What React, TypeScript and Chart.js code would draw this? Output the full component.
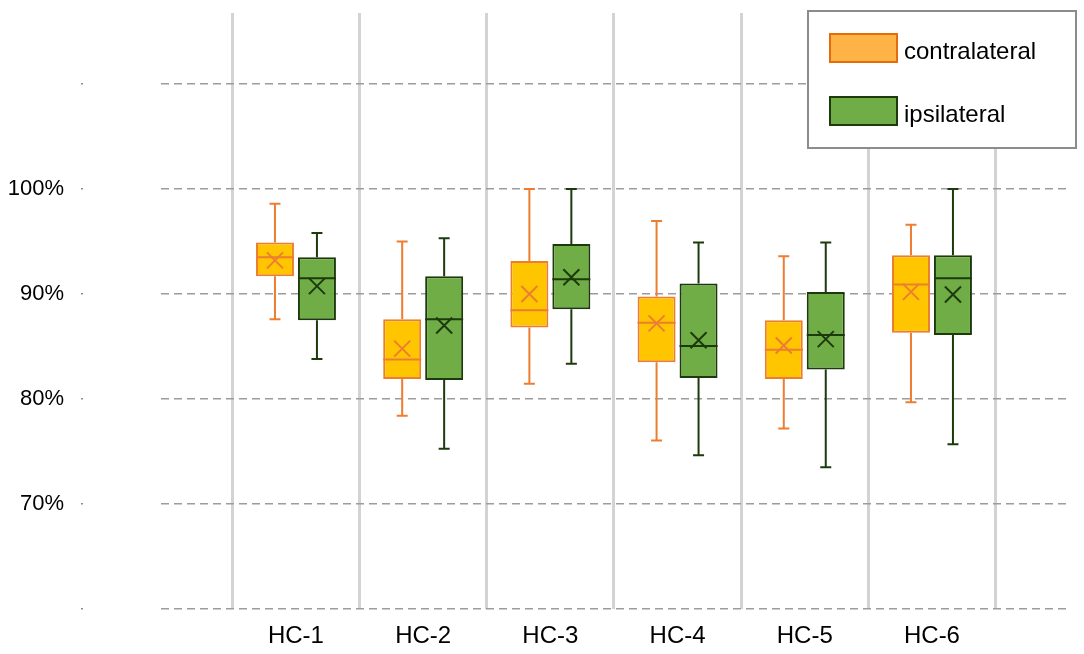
import React, { useEffect, useRef } from "react";
import { Chart, registerables } from "chart.js";

Chart.register(...registerables);

const categories = ["HC-1", "HC-2", "HC-3", "HC-4", "HC-5", "HC-6"];

// contralateral box stats (%)
const contraMin = [87.6, 78.4, 81.45, 76.05, 77.2, 79.7];
const contraQ1 = [91.7, 81.9, 86.8, 83.5, 81.9, 86.3];
const contraMedian = [93.5, 83.75, 88.45, 87.25, 84.7, 90.9];
const contraQ3 = [94.9, 87.6, 93.15, 89.75, 87.5, 93.7];
const contraMax = [98.6, 95.0, 100.0, 96.95, 93.6, 96.6];
const contraMean = [93.2, 84.8, 90.0, 87.2, 85.1, 90.2];

// ipsilateral box stats (%)
const ipsiMin = [83.8, 75.25, 83.35, 74.65, 73.5, 75.7];
const ipsiQ1 = [87.5, 81.8, 88.55, 82.0, 82.8, 86.1];
const ipsiMedian = [91.5, 87.6, 91.4, 85.05, 86.1, 91.5];
const ipsiQ3 = [93.5, 91.7, 94.75, 91.0, 90.2, 93.7];
const ipsiMax = [95.8, 95.3, 100.0, 94.9, 94.9, 100.0];
const ipsiMean = [90.75, 87.0, 91.6, 85.6, 85.7, 89.95];

const yTicks = [60, 70, 80, 90, 100, 110];
const yLabelled = [70, 80, 90, 100];

const FONT = '"Liberation Sans", Arial, sans-serif';

const groups = [
  {
    label: "contralateral",
    min: contraMin, q1: contraQ1, median: contraMedian, q3: contraQ3, max: contraMax, mean: contraMean,
    fill: "#FFC600", line: "#ED7D31", swatch: "#FFB347", swatchLine: "#E46C0A",
  },
  {
    label: "ipsilateral",
    min: ipsiMin, q1: ipsiQ1, median: ipsiMedian, q3: ipsiQ3, max: ipsiMax, mean: ipsiMean,
    fill: "#70AD47", line: "#1D3A0D", swatch: "#70AD47", swatchLine: "#1D3A0D",
  },
];

const X_MIN = -0.061;
const X_MAX = 7.093;

const whiskerPlugin = {
  id: "whiskers",
  afterDatasetsDraw(chart: any) {
    const ctx = chart.ctx;
    const y = chart.scales.y;
    groups.forEach((g, di) => {
      const meta = chart.getDatasetMeta(di);
      ctx.save();
      ctx.strokeStyle = g.line;
      ctx.lineWidth = 2;
      meta.data.forEach((bar: any, i: number) => {
        const { x, width } = bar.getProps(["x", "width"], true);
        const yMin = y.getPixelForValue(g.min[i]);
        const yQ1 = y.getPixelForValue(g.q1[i]);
        const yQ3 = y.getPixelForValue(g.q3[i]);
        const yMax = y.getPixelForValue(g.max[i]);
        const yMed = y.getPixelForValue(g.median[i]);
        const yMean = y.getPixelForValue(g.mean[i]);
        const cap = 5.5;
        ctx.beginPath();
        ctx.moveTo(x, yQ3);
        ctx.lineTo(x, yMax);
        ctx.moveTo(x - cap, yMax);
        ctx.lineTo(x + cap, yMax);
        ctx.moveTo(x, yQ1);
        ctx.lineTo(x, yMin);
        ctx.moveTo(x - cap, yMin);
        ctx.lineTo(x + cap, yMin);
        ctx.moveTo(x - width / 2, yMed);
        ctx.lineTo(x + width / 2, yMed);
        ctx.stroke();
        const m = 8;
        ctx.beginPath();
        ctx.moveTo(x - m, yMean - m);
        ctx.lineTo(x + m, yMean + m);
        ctx.moveTo(x - m, yMean + m);
        ctx.lineTo(x + m, yMean - m);
        ctx.stroke();
      });
      ctx.restore();
    });
  },
};

const legendPlugin = {
  id: "boxLegend",
  afterDraw(chart: any) {
    const ctx = chart.ctx;
    const left = chart.width - 276;
    const top = 11;
    ctx.save();
    ctx.fillStyle = "#ffffff";
    ctx.fillRect(left, top, 268, 137);
    ctx.strokeStyle = "#8c8c8c";
    ctx.lineWidth = 2;
    ctx.strokeRect(left, top, 268, 137);
    groups.forEach((g, i) => {
      const sy = top + 23 + i * 63;
      ctx.fillStyle = g.swatch;
      ctx.fillRect(left + 22, sy, 67, 28);
      ctx.strokeStyle = g.swatchLine;
      ctx.lineWidth = 2;
      ctx.strokeRect(left + 22, sy, 67, 28);
      ctx.fillStyle = "#000000";
      ctx.font = `24px ${FONT}`;
      ctx.textBaseline = "alphabetic";
      ctx.textAlign = "left";
      ctx.fillText(g.label, left + 96, sy + 24.5);
    });
    ctx.restore();
  },
};

export default function App() {
  const canvasRef = useRef<HTMLCanvasElement | null>(null);

  useEffect(() => {
    if (!canvasRef.current) return;
    const chart = new Chart(canvasRef.current, {
      type: "bar",
      data: {
        datasets: groups.map((g) => ({
          label: g.label,
          data: categories.map((_, i) => ({ x: i + 1, y: [g.q1[i], g.q3[i]] })),
          backgroundColor: g.fill,
          borderColor: g.line,
          borderWidth: 2,
          borderSkipped: false,
        })) as any,
      },
      options: {
        responsive: false,
        animation: false,
        categoryPercentage: 0.66,
        barPercentage: 0.905,
        layout: { padding: { left: 8, top: 12.7, right: 13, bottom: 0 } },
        plugins: {
          legend: { display: false },
          tooltip: { enabled: false },
        },
        scales: {
          x: {
            type: "linear",
            position: "bottom",
            min: X_MIN,
            max: X_MAX,
            offset: false,
            grid: { display: false, drawTicks: false, offset: false },
            border: { display: false },
            afterBuildTicks: (scale: any) => {
              scale.ticks = categories.map((_, i) => ({ value: i + 1 }));
            },
            afterFit: (scale: any) => {
              scale.height = 45;
              scale.paddingLeft = 0;
              scale.paddingRight = 0;
            },
            ticks: {
              padding: 13,
              color: "#000000",
              font: { family: FONT, size: 24 },
              callback: (v: any) => categories[Math.round(Number(v)) - 1] ?? "",
            },
          },
          xg: {
            type: "linear",
            position: "top",
            min: X_MIN,
            max: X_MAX,
            offset: false,
            grid: { color: "#d3d3d3", lineWidth: 3, drawTicks: false, offset: false },
            border: { display: false },
            ticks: { display: false },
            afterBuildTicks: (scale: any) => {
              scale.ticks = categories.map((_, i) => ({ value: i + 0.5 })).concat([{ value: categories.length + 0.5 }]);
            },
            afterFit: (scale: any) => {
              scale.height = 0;
              scale.paddingLeft = 0;
              scale.paddingRight = 0;
            },
          },
          y: {
            type: "linear",
            min: 60,
            max: 116.79,
            grid: {
              color: "#9c9c9c",
              lineWidth: 1.5,
              tickLength: 80,
              tickColor: "#8c8c8c",
              tickWidth: 1.5,
              tickBorderDash: [2, 300],
            },
            border: { display: false, dash: [8, 5] },
            afterBuildTicks: (scale: any) => {
              scale.ticks = yTicks.map((v) => ({ value: v }));
            },
            afterFit: (scale: any) => {
              scale.width = 153;
              scale.paddingTop = 0;
              scale.paddingBottom = 0;
            },
            ticks: {
              padding: 17,
              color: "#000000",
              font: { family: FONT, size: 22 },
              callback: (v: any) => (yLabelled.includes(Number(v)) ? `${v}%` : ""),
            },
          },
        },
      },
      plugins: [whiskerPlugin, legendPlugin],
    });
    return () => chart.destroy();
  }, []);

  return (
    <div style={{ position: "absolute", left: 0, top: 0, width: 1084, height: 654, background: "#fff" }}>
      <canvas ref={canvasRef} width={1084} height={654} style={{ display: "block" }} />
    </div>
  );
}
